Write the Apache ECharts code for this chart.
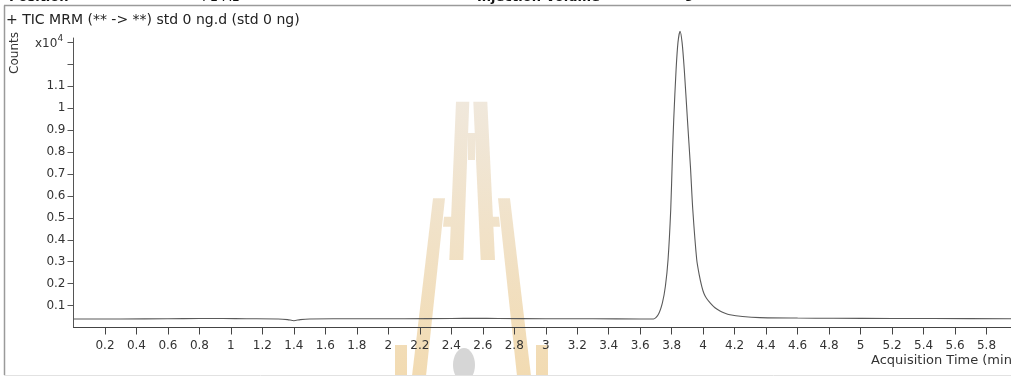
<!DOCTYPE html>
<html>
<head>
<meta charset="utf-8">
<title>TIC MRM std 0 ng</title>
<script src="https://cdn.jsdelivr.net/npm/echarts@6/dist/echarts.min.js"></script>
<style>
  html, body { margin: 0; padding: 0; background: #ffffff; overflow: hidden; width: 1011px; height: 376px; }
  /* the canvas is a little wider than the window: the time axis runs on to 6 min past the right edge */
  #chart { width: 1030px; height: 376px; }
</style>
</head>
<body>
<div id="chart"></div>
<script>
// Acquisition time (min) of each sampled point of the TIC trace
const acqTime = [
  0.00, 0.30, 0.60, 0.80, 0.95, 1.10, 1.30, 1.36, 1.40, 1.44, 1.50, 1.80,
  2.10, 2.40, 2.55, 2.70, 3.00, 3.30, 3.60, 3.684,
  3.715, 3.741, 3.760, 3.777, 3.794, 3.804, 3.813, 3.828, 3.840, 3.853,
  3.866, 3.880, 3.900, 3.919, 3.934, 3.959, 3.975, 3.991, 4.005, 4.022,
  4.047, 4.075, 4.107, 4.135, 4.170, 4.250, 4.361, 4.600, 4.825, 5.200,
  5.461, 5.960
];
// Counts at each time, in units of x10^4
const countsE4 = [
  0.039, 0.039, 0.040, 0.041, 0.041, 0.040, 0.039, 0.036, 0.031, 0.036, 0.039, 0.040,
  0.040, 0.041, 0.042, 0.041, 0.040, 0.040, 0.039, 0.039,
  0.059, 0.112, 0.188, 0.310, 0.538, 0.766, 0.948, 1.176, 1.300, 1.351,
  1.300, 1.176, 0.948, 0.735, 0.538, 0.310, 0.240, 0.188, 0.155, 0.132,
  0.110, 0.090, 0.075, 0.066, 0.058, 0.050, 0.045, 0.043, 0.042, 0.041,
  0.041, 0.040
];
// Axis ticks
const xTicks = [0.2, 0.4, 0.6, 0.8, 1, 1.2, 1.4, 1.6, 1.8, 2, 2.2, 2.4, 2.6, 2.8, 3,
  3.2, 3.4, 3.6, 3.8, 4, 4.2, 4.4, 4.6, 4.8, 5, 5.2, 5.4, 5.6, 5.8, 6];
const yTicks = [0.1, 0.2, 0.3, 0.4, 0.5, 0.6, 0.7, 0.8, 0.9, 1, 1.1, 1.2, 1.3];
const yLabelled = [0.1, 0.2, 0.3, 0.4, 0.5, 0.6, 0.7, 0.8, 0.9, 1, 1.1];

const titleText = '+ TIC MRM (** -> **) std 0 ng.d (std 0 ng)';
const xName = 'Acquisition Time (min)';
const yName = 'Counts';

const FONT = 'DejaVu Sans';
const traceData = acqTime.map((t, i) => [t, countsE4[i]]);
const round1 = v => Math.round(v * 10) / 10;

// Faint emblem drawn behind the plot
const wmFill = {
  type: 'linear', x: 0, y: 100, x2: 0, y2: 376, global: true,
  colorStops: [{ offset: 0, color: '#f0e8dc' }, { offset: 1, color: '#f2dbb2' }]
};
const emblem = [
  [[456, 101.7], [469.3, 101.7], [463.3, 260], [449.3, 260]],
  [[473.3, 101.7], [487.3, 101.7], [495, 260], [480.7, 260]],
  [[468, 133], [475, 133], [475, 160], [468, 160]],
  [[433, 198.3], [445, 198.3], [426, 376], [412, 376]],
  [[444, 216.7], [454, 216.7], [453, 226.7], [443, 226.7]],
  [[498, 198.3], [510, 198.3], [531, 376], [517, 376]],
  [[489, 216.7], [499, 216.7], [500, 226.7], [490, 226.7]],
  [[395, 345], [407, 345], [407, 376], [395, 376]],
  [[536, 345], [548, 345], [548, 376], [536, 376]]
].map(pts => ({
  type: 'polygon', z: -10, silent: true,
  shape: { points: pts },
  style: { fill: wmFill }
}));

const chart = echarts.init(document.getElementById('chart'), null, { renderer: 'canvas' });

chart.setOption({
  backgroundColor: '#ffffff',
  animation: false,
  textStyle: { fontFamily: FONT },
  grid: { left: 73.5, right: 12, top: 38, bottom: 48.5, containLabel: false },
  xAxis: {
    type: 'value', min: 0, max: 6, interval: 0.2,
    axisLine: { show: true, lineStyle: { color: '#444', width: 1 } },
    axisTick: { show: true, length: 7, lineStyle: { color: '#444' }, customValues: xTicks },
    axisLabel: {
      show: true, margin: 12, color: '#333', fontSize: 12, fontFamily: FONT,
      customValues: xTicks,
      formatter: v => String(round1(v))
    },
    splitLine: { show: false }
  },
  yAxis: {
    type: 'value', min: 0, max: 1.32, interval: 0.1,
    axisLine: { show: true, lineStyle: { color: '#555', width: 1 } },
    axisTick: { show: true, length: 6, lineStyle: { color: '#555' }, customValues: yTicks },
    axisLabel: {
      show: true, margin: 8, color: '#333', fontSize: 12, fontFamily: FONT,
      customValues: yTicks,
      formatter: v => (yLabelled.indexOf(round1(v)) >= 0 ? String(round1(v)) : '')
    },
    splitLine: { show: false }
  },
  series: [{
    type: 'line',
    data: traceData,
    showSymbol: false,
    smooth: 0.25,
    clip: false,
    lineStyle: { color: '#5a5a5a', width: 1.1 },
    z: 3
  }],
  graphic: [
    ...emblem,
    { type: 'ellipse', z: -9, silent: true,
      shape: { cx: 464, cy: 365, rx: 11, ry: 17 }, style: { fill: '#d6d6d6' } },
    // frame lines
    { type: 'line', silent: true, shape: { x1: 4, y1: 5.5, x2: 1030, y2: 5.5 },
      style: { stroke: '#9a9a9a', lineWidth: 1.5 } },
    { type: 'line', silent: true, shape: { x1: 4.5, y1: 5.5, x2: 4.5, y2: 375 },
      style: { stroke: '#9a9a9a', lineWidth: 1.5 } },
    { type: 'line', silent: true, shape: { x1: 4, y1: 375.5, x2: 1030, y2: 375.5 },
      style: { stroke: '#e2e2e2', lineWidth: 1 } },
    // header row above the frame
    { type: 'text', silent: true, left: 9, top: -9,
      style: { text: 'Position', font: 'bold 13px ' + FONT, fill: '#111' } },
    { type: 'text', silent: true, left: 202, top: -9,
      style: { text: 'P1-A1', font: '13px ' + FONT, fill: '#111' } },
    { type: 'text', silent: true, left: 477, top: -9,
      style: { text: 'Injection Volume', font: 'bold 13px ' + FONT, fill: '#111' } },
    { type: 'text', silent: true, left: 685, top: -9,
      style: { text: '5', font: '13px ' + FONT, fill: '#111' } },
    // plot title
    { type: 'text', silent: true, left: 6, top: 13,
      style: { text: titleText, font: '14px ' + FONT, fill: '#222' } },
    // y axis name and multiplier
    { type: 'text', silent: true, x: 15, y: 53, rotation: Math.PI / 2,
      style: { text: yName, font: '12px ' + FONT, fill: '#333', align: 'center', verticalAlign: 'middle' } },
    { type: 'text', silent: true, x: 35, y: 44,
      style: { text: 'x10', font: '12px ' + FONT, fill: '#333', verticalAlign: 'middle' } },
    { type: 'text', silent: true, x: 57.5, y: 38.5,
      style: { text: '4', font: '9px ' + FONT, fill: '#333', verticalAlign: 'middle' } },
    // x axis name
    { type: 'text', silent: true, x: 871, y: 361,
      style: { text: xName, font: '13px ' + FONT, fill: '#333', verticalAlign: 'middle' } }
  ]
});
</script>
</body>
</html>
